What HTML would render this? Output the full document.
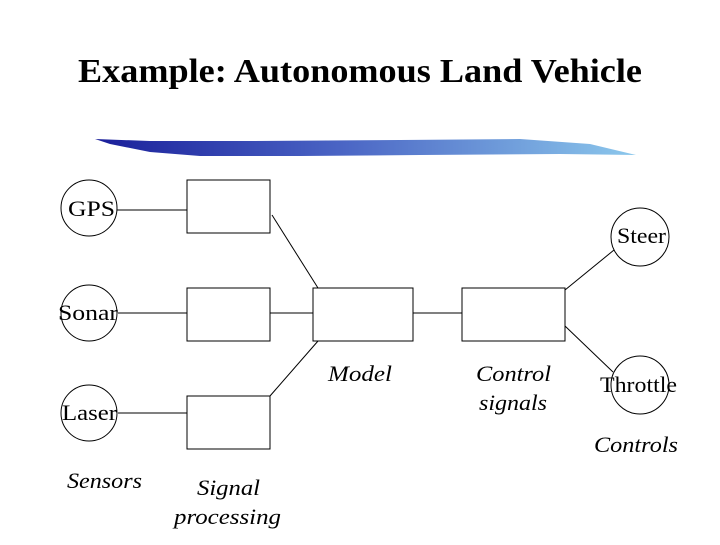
<!DOCTYPE html><html><head><style>body{margin:0;background:#fff}</style></head><body>
<svg width="720" height="540" xmlns="http://www.w3.org/2000/svg" font-family="Liberation Serif, serif">
<defs><linearGradient id="g" x1="0" x2="1"><stop offset="0" stop-color="#1a1f9a"/><stop offset="0.45" stop-color="#4a64c4"/><stop offset="1" stop-color="#8cc8ec"/></linearGradient></defs>
<text x="78" y="82" font-size="34" font-weight="bold" textLength="564" lengthAdjust="spacingAndGlyphs">Example: Autonomous Land Vehicle</text>
<path d="M95,139 L150,141 L250,141 L400,140 L520,139 L590,144 L636,155 L560,154 L420,155 L300,156 L200,156 L150,152 L110,144 Z" fill="url(#g)"/>
<g fill="none" stroke="#000" stroke-width="1">
<circle cx="89" cy="208" r="28"/><circle cx="89" cy="313" r="28"/><circle cx="89" cy="413" r="28"/>
<circle cx="640" cy="237" r="29"/><circle cx="640" cy="385" r="29"/>
<rect x="187" y="180" width="83" height="53"/><rect x="187" y="288" width="83" height="53"/><rect x="187" y="396" width="83" height="53"/>
<rect x="313" y="288" width="100" height="53"/><rect x="462" y="288" width="103" height="53"/>
<line x1="117" y1="210" x2="187" y2="210"/><line x1="118" y1="313" x2="187" y2="313"/><line x1="118" y1="413" x2="187" y2="413"/>
<line x1="272" y1="215" x2="318" y2="288"/><line x1="270" y1="313" x2="313" y2="313"/><line x1="270" y1="396" x2="318" y2="341"/>
<line x1="413" y1="313" x2="462" y2="313"/><line x1="565" y1="290" x2="614" y2="250"/><line x1="565" y1="326" x2="613" y2="372"/>
</g>
<g font-size="22" lengthAdjust="spacingAndGlyphs">
<text x="68" y="216" textLength="47" lengthAdjust="spacingAndGlyphs">GPS</text>
<text x="58" y="320" textLength="60" lengthAdjust="spacingAndGlyphs">Sonar</text>
<text x="62" y="420" textLength="55" lengthAdjust="spacingAndGlyphs">Laser</text>
<text x="617" y="243" textLength="49" lengthAdjust="spacingAndGlyphs">Steer</text>
<text x="600" y="392" textLength="77" lengthAdjust="spacingAndGlyphs">Throttle</text>
</g>
<g font-size="22" font-style="italic">
<text x="328" y="381" textLength="64" lengthAdjust="spacingAndGlyphs">Model</text>
<text x="476" y="381" textLength="75" lengthAdjust="spacingAndGlyphs">Control</text>
<text x="479" y="410" textLength="68" lengthAdjust="spacingAndGlyphs">signals</text>
<text x="594" y="452" textLength="84" lengthAdjust="spacingAndGlyphs">Controls</text>
<text x="67" y="488" textLength="75" lengthAdjust="spacingAndGlyphs">Sensors</text>
<text x="197" y="495" textLength="63" lengthAdjust="spacingAndGlyphs">Signal</text>
<text x="174" y="524" textLength="107" lengthAdjust="spacingAndGlyphs">processing</text>
</g>
</svg></body></html>
